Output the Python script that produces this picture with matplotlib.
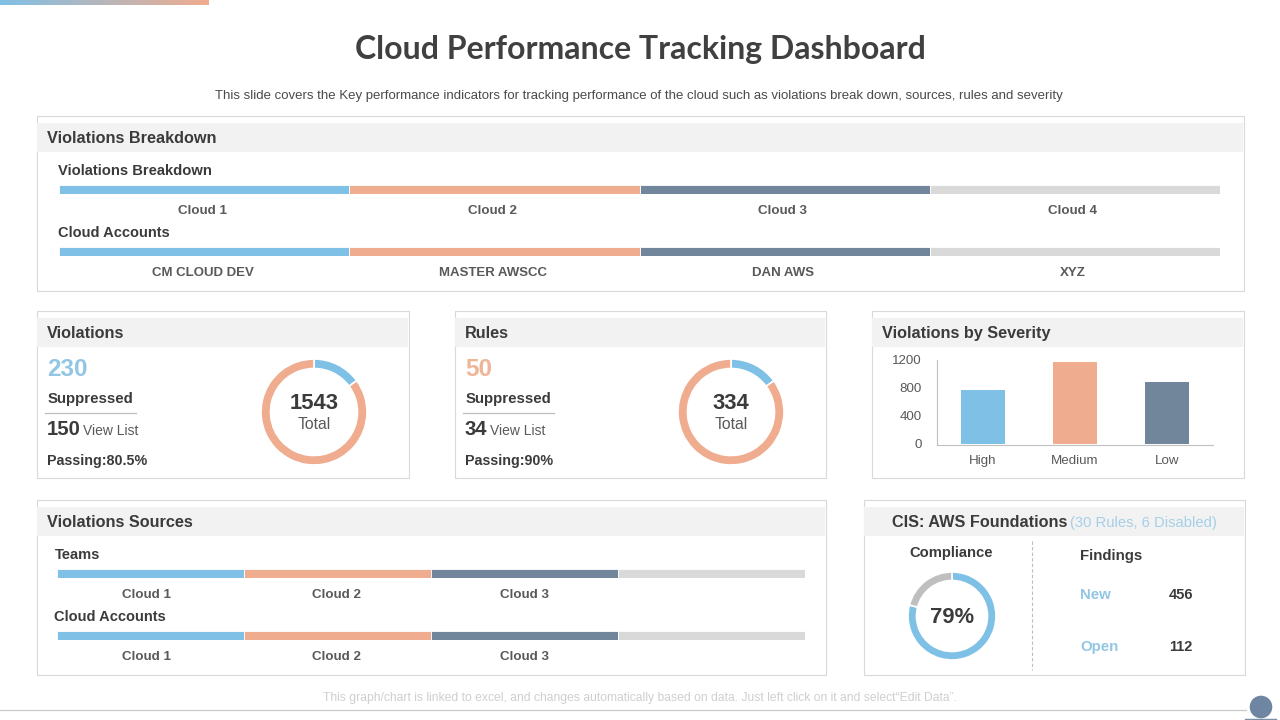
import numpy as np
import matplotlib
matplotlib.use("Agg")
import matplotlib.pyplot as plt
from matplotlib.patches import Rectangle, Circle
from matplotlib.colors import LinearSegmentedColormap

W, H = 1280, 720
BLUE, SALMON, SLATE, LIGHT = "#7fc0e6", "#f0ac8e", "#71869b", "#d9d9d9"
DARK, MID = "#3b3b3b", "#595959"
plt.rcParams['font.family'] = ['Liberation Sans', 'DejaVu Sans']

# ---------- data ----------
title = "Cloud Performance Tracking Dashboard"
subtitle = ("This slide covers the Key performance indicators for tracking performance "
            "of the cloud such as violations break down, sources, rules and severity")
footer = "This graph/chart is linked to excel, and changes automatically based on data. Just left click on it and select\u201cEdit Data\u201d."

breakdown_shares = [25, 25, 25, 25]
breakdown_labels = ["Cloud 1", "Cloud 2", "Cloud 3", "Cloud 4"]
account_labels = ["CM CLOUD DEV", "MASTER AWSCC", "DAN AWS", "XYZ"]
source_shares = [25, 25, 25, 25]
source_labels = ["Cloud 1", "Cloud 2", "Cloud 3"]

violations_part = [230, 1313]
violations_total = 1543
rules_part = [50, 284]
rules_total = 334
compliance_part = [79, 21]

severity_labels = ["High", "Medium", "Low"]
severity_values = [770, 1170, 885]
severity_ticks = [0, 400, 800, 1200]
stack_colors = [BLUE, SALMON, SLATE, LIGHT]

# ---------- canvas in pixel coordinates ----------
fig = plt.figure(figsize=(W / 100, H / 100), dpi=100, facecolor="white")
bg = fig.add_axes([0, 0, 1, 1])
bg.set_xlim(0, W); bg.set_ylim(H, 0); bg.axis("off")


def px_axes(x0, y0, x1, y1, **kw):
    return fig.add_axes([x0 / W, 1 - y1 / H, (x1 - x0) / W, (y1 - y0) / H], **kw)


def txt(x, y, s, size=9, color=DARK, weight="normal", ha="left", family=None, **kw):
    return bg.text(x, y + 1.2, s, fontsize=size, color=color, fontweight=weight, ha=ha, va="center",
                   family=family or ['Liberation Sans', 'DejaVu Sans'], **kw)


def panel(x0, y0, x1, y1, head_h=29):
    bg.add_patch(Rectangle((x0 - 0.5, y0 - 0.5), x1 - x0, y1 - y0, fc="white", ec="#d9d9d9", lw=0.8))
    bg.add_patch(Rectangle((x0, y0 + 7), x1 - x0 - 1, head_h, fc="#f2f2f2", ec="none"))


def stack(x0, x1, yc, shares):
    ax = px_axes(x0 - 0.7, yc - 5, x1, yc + 4.5)
    left = 0
    for v, c in zip(shares, stack_colors):
        ax.barh(0, v, left=left, height=1, color=c, edgecolor="white", linewidth=0.6)
        left += v
    ax.set_xlim(0, sum(shares)); ax.set_ylim(-0.5, 0.5); ax.axis("off")


def donut(cx, cy, r, width, parts, colors):
    ax = px_axes(cx - r - 2, cy - r - 2, cx + r + 2, cy + r + 2)
    ax.pie(parts, colors=colors, startangle=90, counterclock=False, radius=r / (r + 2),
           wedgeprops=dict(width=width / (r + 2), edgecolor="white", linewidth=1.2),
           center=(0, 0))
    ax.set_xlim(-1, 1); ax.set_ylim(-1, 1)


# top gradient strip
cmap = LinearSegmentedColormap.from_list("g", [BLUE, SALMON])
bg.imshow(np.linspace(0, 1, 256)[None, :], extent=(0, 209, 5, 0), cmap=cmap, aspect="auto", zorder=2)
bg.set_xlim(0, W); bg.set_ylim(H, 0)

txt(640, 48, title, size=23, weight="bold", ha="center", family=["Lato", "DejaVu Sans"], color="#404040")
txt(639, 94.5, subtitle, size=9.5, ha="center", color="#4a4a4a")

# Violations Breakdown panel
panel(37, 116, 1244, 291)
txt(47, 137.5, "Violations Breakdown", size=11.7, weight="bold")
txt(58, 170, "Violations Breakdown", size=10.6, weight="bold")
stack(60, 1220, 189.5, breakdown_shares)
for i, lab in enumerate(breakdown_labels):
    txt(203 + 290 * i, 209.5, lab, size=9.6, weight="bold", ha="center", color=MID)
txt(58, 232, "Cloud Accounts", size=10.55, weight="bold")
stack(60, 1220, 251.5, breakdown_shares)
for i, lab in enumerate(account_labels):
    txt(203 + 290 * i, 271.5, lab, size=9.5, weight="bold", ha="center", color=MID)


def kpi(x0, x1, big, big_color, small, list_x, passing, parts, total, cx, name):
    panel(x0, 311, x1, 478)
    txt(x0 + 10, 332.5, name, size=11.7, weight="bold")
    txt(x0 + 10, 368, str(big), size=17.5, weight="bold", color=big_color)
    txt(x0 + 11, 398, "Suppressed", size=10.8, weight="bold")
    bg.plot([x0 + 8, x0 + 99], [412.5, 412.5], color="#bdbdbd", lw=0.9)
    txt(x0 + 10, 428, str(small), size=14.6, weight="bold")
    txt(list_x, 429.5, "View List", size=10, color=MID)
    txt(x0 + 10, 459.5, f"Passing:{passing}%", size=10.3, weight="bold")
    donut(cx, 412, 53, 9.5, parts, [BLUE, SALMON])
    txt(cx, 402, str(total), size=15.8, weight="bold", ha="center")
    txt(cx, 423.5, "Total", size=11.3, ha="center", color=MID)


kpi(37, 409, 230, "#92c6e4", 150, 83, "80.5", violations_part, violations_total, 314, "Violations")
kpi(455, 826, 50, "#f0b496", 34, 490, "90", rules_part, rules_total, 731, "Rules")

# Violations by Severity
panel(872, 311, 1244, 478)
txt(882, 332.5, "Violations by Severity", size=11.7, weight="bold")
sev = px_axes(937, 360, 1213, 445)
sev.patch.set_alpha(0)
sev.bar(severity_labels, severity_values, width=0.48, color=[BLUE, SALMON, SLATE])
sev.set_xlim(-0.5, 2.5); sev.set_ylim(-14.3, 1200)
sev.set_yticks(severity_ticks)
for s in ("top", "right"):
    sev.spines[s].set_visible(False)
for s in ("left", "bottom"):
    sev.spines[s].set_color("#bfbfbf")
sev.tick_params(axis="both", length=0, labelsize=9.6, labelcolor=MID)
sev.tick_params(axis="y", pad=11)
sev.tick_params(axis="x", pad=7)

# Violations Sources
panel(37, 500, 826, 675)
txt(47, 521.5, "Violations Sources", size=11.7, weight="bold")
txt(55, 554, "Teams", size=10.55, weight="bold")
stack(58, 805, 573.5, source_shares)
for x, lab in zip((146, 336, 525), source_labels):
    txt(x, 593.5, lab, size=9.6, weight="bold", ha="center", color=MID)
txt(54, 616, "Cloud Accounts", size=10.55, weight="bold")
stack(58, 805, 635.5, source_shares)
for x, lab in zip((146, 336, 525), source_labels):
    txt(x, 655.5, lab, size=9.6, weight="bold", ha="center", color=MID)

# CIS panel
panel(864, 500, 1245, 675)
txt(892, 521.5, "CIS: AWS Foundations", size=11.7, weight="bold")
txt(1070, 522, "(30 Rules, 6 Disabled)", size=10.6, color="#a5cfe8")
txt(951, 552, "Compliance", size=10.6, weight="bold", ha="center")
donut(952, 616, 44, 8.5, compliance_part, [BLUE, "#bfbfbf"])
txt(952, 616, "79%", size=15.8, weight="bold", ha="center")
bg.plot([1031.5, 1031.5], [541, 670], color="#bdbdbd", lw=0.8, ls=(0, (3, 2)))
txt(1080, 555, "Findings", size=10.8, weight="bold")
txt(1080, 594, "New", size=10.8, weight="bold", color="#92c6e4")
txt(1169, 594, "456", size=10.5, weight="bold")
txt(1080, 646, "Open", size=10.8, weight="bold", color="#92c6e4")
txt(1169, 646, "112", size=10.5, weight="bold")

# footer
txt(640, 697, footer, size=8.7, ha="center", color="#cfcfcf")
bg.plot([0, 1246], [709.5, 709.5], color="#c9c9c9", lw=0.9)
bg.plot([1245, 1276], [719, 719], color="#7a8ea8", lw=1)
bg.add_patch(Circle((1261, 707), 11.3, fc="#6f86a3", ec="none", zorder=3))

fig.savefig("out.png", dpi=100)
